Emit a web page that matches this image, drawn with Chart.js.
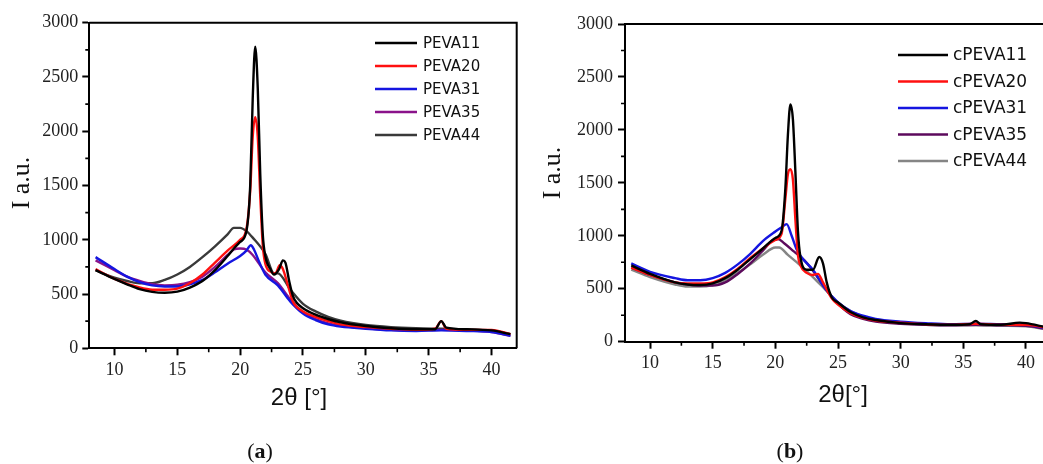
<!DOCTYPE html>
<html>
<head>
<meta charset="utf-8">
<script src="https://cdn.jsdelivr.net/npm/chart.js@4.4.0/dist/chart.umd.min.js"></script>
<style>
html,body{margin:0;padding:0;background:#fff;overflow:hidden;width:1043px;height:464px;}
#wa{position:absolute;left:0;top:0;width:530px;height:464px;}
#wb{position:absolute;left:520px;top:0;width:523px;height:464px;}
</style>
</head>
<body>
<div id="wa"><canvas id="ca" width="530" height="464"></canvas></div>
<div id="wb"><canvas id="cb" width="523" height="464"></canvas></div>
<script>
// ---------- tick labels ----------
const xTickValues = [10, 15, 20, 25, 30, 35, 40];
const yTickValues = [0, 500, 1000, 1500, 2000, 2500, 3000];

// ---------- panel (a) ----------
const labelsA = ['PEVA11', 'PEVA20', 'PEVA31', 'PEVA35', 'PEVA44'];
const peva11X = [8.5,10,11,12,13,14,15,16,17,18,19,19.5,20,20.5,20.8,21.0,21.2,21.4,21.6,21.8,22.0,22.4,22.7,23.1,23.4,23.6,23.9,24.2,24.5,25,26,27,28,30,32,34,35.5,36,36.4,38,40,41.5];
const peva11Y = [720,640,590,545,520,512,522,560,620,720,850,920,980,1080,1500,2300,2780,2400,1600,1050,850,730,680,730,810,790,620,480,420,370,310,270,240,205,185,175,175,250,190,175,165,130];
const peva20X = [8.5,10,12,13,14,15,16,17,18,19,20,20.5,20.8,21.0,21.2,21.4,21.6,21.8,22.0,22.5,22.8,23.15,23.4,23.8,24.2,25,26,27,28,30,32,34,35.5,36,36.4,38,40,41.5];
const peva20Y = [730,640,560,540,540,550,600,680,790,900,1000,1100,1450,1950,2130,1950,1400,950,780,700,690,765,730,580,430,340,290,250,220,195,180,170,180,250,180,170,170,130];
const peva31X = [8.5,10,11,12,13,14,15,16,17,18,19,20,20.5,20.85,21.1,21.5,22,23,24,25,26,27,28,30,32,34,36,38,40,41.5];
const peva31Y = [840,730,660,610,580,570,570,590,630,700,780,850,900,950,910,800,680,580,430,320,260,220,200,180,165,160,165,160,150,115];
const peva35X = [8.5,10,11,12,13,14,15,16,17,18,19,19.5,20,20.5,21,21.5,22,23,24,25,26,27,28,30,32,34,36,38,40,41.5];
const peva35Y = [810,720,660,620,590,580,585,610,660,750,860,910,920,910,860,780,700,600,450,330,270,230,210,185,170,165,170,165,150,115];
const peva44X = [8.5,10,11,12,13,14,15,16,17,18,19,19.5,20,20.5,21,22,22.7,23,24,25,26,27,28,30,32,34,36,38,40,41.5];
const peva44Y = [720,650,620,600,600,630,680,750,840,940,1050,1110,1110,1080,1020,870,690,690,540,410,340,290,255,215,195,185,180,175,160,130];

// ---------- panel (b) ----------
const labelsB = ['cPEVA11', 'cPEVA20', 'cPEVA31', 'cPEVA35', 'cPEVA44'];
const cpeva11X = [8.5,10,12,13,14,15,16,17,18,19,20,20.5,20.8,21.0,21.2,21.4,21.6,21.8,22.0,22.5,23.0,23.5,23.8,24.1,24.5,25,26,27,28,30,32,34,35.5,36,36.4,38,39.5,40,41.5];
const cpeva11Y = [720,640,560,540,535,550,600,680,780,880,980,1050,1450,1950,2240,2100,1600,1050,800,680,680,800,740,560,420,370,280,230,205,175,165,160,165,195,165,160,180,175,140];
const cpeva20X = [8.5,10,12,13,14,15,16,17,18,19,20,20.5,20.8,21.0,21.2,21.4,21.6,21.8,22.0,22.5,23.0,23.4,23.8,24.5,25,26,27,28,30,32,34,36,38,40,41.5];
const cpeva20Y = [700,630,560,550,550,560,610,690,790,880,960,1020,1350,1580,1630,1530,1150,820,720,650,630,640,560,410,350,270,225,200,180,165,160,170,160,160,135];
const cpeva31X = [8.5,10,12,13,14,15,16,17,18,19,20,20.5,20.9,21.3,21.7,22.2,23,24,25,26,27,28,30,32,34,36,38,40,41.5];
const cpeva31Y = [740,660,600,580,580,600,650,730,830,950,1040,1080,1110,1000,870,780,680,500,370,290,245,215,190,175,165,170,165,160,130];
const cpeva35X = [8.5,10,12,13,14,15,16,17,18,19,19.7,20.2,20.7,21.5,22.3,23,24,25,26,27,28,30,32,34,36,38,40,41.5];
const cpeva35Y = [700,630,560,540,530,530,560,640,740,860,950,970,930,850,770,670,500,360,260,215,190,170,160,155,160,155,150,125];
const cpeva44X = [8.5,10,12,13,14,15,16,17,18,19,20,20.3,21,22,23,24,25,26,27,28,30,32,34,36,38,40,41.5];
const cpeva44Y = [680,610,540,520,520,535,580,650,730,820,890,890,820,720,610,490,370,290,240,205,175,160,155,155,150,145,120];

const colorsA = ['#000000', '#ff1010', '#1515e0', '#8a138a', '#3a3a3a'];
const colorsB = ['#000000', '#ff1010', '#1515e0', '#5c0a5c', '#858585'];

function pts(xs, ys) { return xs.map((x, i) => ({x: x, y: ys[i]})); }
function makeSets(labels, colors, series) {
  return series.map((s, i) => ({
    label: labels[i],
    data: pts(s[0], s[1]),
    borderColor: colors[i],
    backgroundColor: colors[i],
    borderWidth: 2.4,
    pointRadius: 0,
    cubicInterpolationMode: 'monotone',
    fill: false
  }));
}

const framePlugin = {
  id: 'frame',
  afterDraw(chart, args, o) {
    const {ctx, chartArea: a, scales} = chart;
    const x = scales.x, y = scales.y;
    ctx.save();
    ctx.strokeStyle = '#000';
    ctx.lineWidth = 2;
    ctx.beginPath();
    ctx.moveTo(a.left, a.top);
    ctx.lineTo(a.right + 1, a.top);
    if (o.rightBorder) { ctx.moveTo(a.right, a.top); ctx.lineTo(a.right, a.bottom); }
    ctx.stroke();
    // minor ticks
    ctx.lineWidth = 1.6;
    ctx.beginPath();
    for (let v = 250; v < 3000; v += 500) {
      const py = y.getPixelForValue(v);
      ctx.moveTo(a.left, py); ctx.lineTo(a.left - 4, py);
    }
    for (let v = 12.5; v < x.max; v += 5) {
      const px = x.getPixelForValue(v);
      ctx.moveTo(px, a.bottom); ctx.lineTo(px, a.bottom + 4);
    }
    ctx.stroke();
    // legend
    ctx.textBaseline = 'middle';
    ctx.textAlign = 'left';
    ctx.font = o.legendFont;
    chart.data.datasets.forEach((ds, i) => {
      const ly = o.legendY + i * o.legendGap;
      ctx.strokeStyle = ds.borderColor;
      ctx.lineWidth = 2.5;
      ctx.beginPath();
      ctx.moveTo(o.legendX, ly); ctx.lineTo(o.legendX + o.legendLen, ly);
      ctx.stroke();
      ctx.fillStyle = '#111';
      ctx.fillText(ds.label, o.legendX + o.legendLen + o.legendTextGap, ly + 1);
    });
    // axis titles
    ctx.fillStyle = '#111';
    ctx.textAlign = 'center';
    ctx.font = '24px "Liberation Sans", Arial, sans-serif';
    ctx.fillText(o.xTitle, o.xTitleX, o.xTitleY);
    ctx.save();
    ctx.translate(o.yTitleX, o.yTitleY);
    ctx.rotate(-Math.PI / 2);
    ctx.font = '26px "Liberation Serif", "Times New Roman", serif';
    ctx.fillText('I a.u.', 0, 0);
    ctx.restore();
    // panel letter
    ctx.textAlign = 'left';
    const pf = '22px "Liberation Serif", serif';
    const bf = 'bold 22px "Liberation Serif", serif';
    ctx.font = pf; const w1 = ctx.measureText('(').width;
    ctx.font = bf; const w2 = ctx.measureText(o.letter).width;
    ctx.font = pf; const w3 = ctx.measureText(')').width;
    let sx = o.letterX - (w1 + w2 + w3) / 2;
    ctx.font = pf; ctx.fillText('(', sx, o.letterY);
    ctx.font = bf; ctx.fillText(o.letter, sx + w1, o.letterY);
    ctx.font = pf; ctx.fillText(')', sx + w1 + w2, o.letterY);
    ctx.restore();
  }
};

function makeOptions(cfg) {
  const tickFont = {family: '"Liberation Serif", "Times New Roman", serif', size: 18};
  return {
    responsive: false,
    animation: false,
    devicePixelRatio: 1,
    layout: {padding: {top: cfg.top, right: cfg.right, left: 0, bottom: 0}},
    plugins: {
      legend: {display: false},
      tooltip: {enabled: false},
      frame: cfg.frame
    },
    scales: {
      x: {
        type: 'linear',
        min: 8, max: cfg.xmax,
        afterFit: (s) => { s.height = cfg.xh; },
        afterBuildTicks: (s) => { s.ticks = xTickValues.map(v => ({value: v})); },
        ticks: {font: tickFont, color: '#222', padding: 4, maxRotation: 0, autoSkip: false, callback: (v) => String(v)},
        grid: {display: true, drawOnChartArea: false, drawTicks: true, tickLength: 7, tickWidth: 2, tickColor: '#000'},
        border: {display: true, color: '#000', width: 2}
      },
      y: {
        type: 'linear',
        min: 0, max: 3000,
        afterFit: (s) => { s.width = cfg.yw; },
        afterBuildTicks: (s) => { s.ticks = yTickValues.map(v => ({value: v})); },
        ticks: {font: tickFont, color: '#222', padding: cfg.ypad, autoSkip: false, callback: (v) => String(v)},
        grid: {display: true, drawOnChartArea: false, drawTicks: true, tickLength: 7, tickWidth: 2, tickColor: '#000'},
        border: {display: true, color: '#000', width: 2}
      }
    }
  };
}

new Chart(document.getElementById('ca'), {
  type: 'line',
  data: {datasets: makeSets(labelsA, colorsA, [[peva11X, peva11Y], [peva20X, peva20Y], [peva31X, peva31Y], [peva35X, peva35Y], [peva44X, peva44Y]])},
  options: makeOptions({
    top: 22.7, right: 13.3, xh: 464 - 348.3, yw: 89.3, xmax: 42, ypad: 4,
    frame: {rightBorder: true, legendX: 375, legendY: 43, legendGap: 23, legendLen: 42, legendTextGap: 6,
      legendFont: '15px "DejaVu Sans", Verdana, sans-serif',
      xTitle: '2θ [°]', xTitleX: 299, xTitleY: 398, yTitleX: 22, yTitleY: 183,
      letter: 'a', letterX: 260, letterY: 452}
  }),
  plugins: [framePlugin]
});

new Chart(document.getElementById('cb'), {
  type: 'line',
  data: {datasets: makeSets(labelsB, colorsB, [[cpeva11X, cpeva11Y], [cpeva20X, cpeva20Y], [cpeva31X, cpeva31Y], [cpeva35X, cpeva35Y], [cpeva44X, cpeva44Y]])},
  options: makeOptions({
    top: 24, right: 0, xh: 464 - 341.7, yw: 105, xmax: 41.36, ypad: 5,
    frame: {rightBorder: false, legendX: 378, legendY: 55, legendGap: 26.5, legendLen: 50, legendTextGap: 5,
      legendFont: '17px "DejaVu Sans", Verdana, sans-serif',
      xTitle: '2θ[°]', xTitleX: 323, xTitleY: 395, yTitleX: 33, yTitleY: 173,
      letter: 'b', letterX: 270, letterY: 452}
  }),
  plugins: [framePlugin]
});
</script>
</body>
</html>
